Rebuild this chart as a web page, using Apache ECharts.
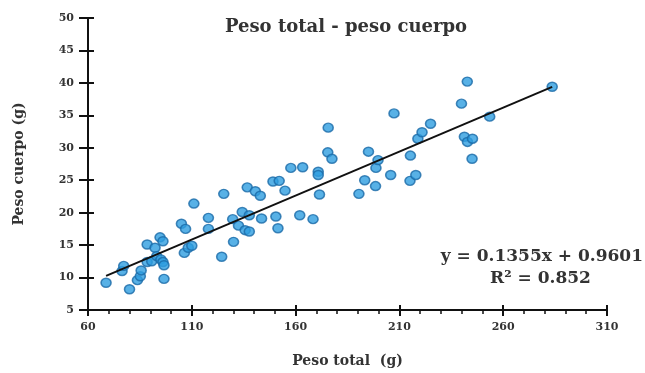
<!DOCTYPE html>
<html>
<head>
<meta charset="utf-8">
<script src="https://cdn.jsdelivr.net/npm/echarts@6/dist/echarts.min.js"></script>
<style>
  html, body { margin: 0; padding: 0; background: #fff; }
  #chart { width: 645px; height: 373px; }
</style>
</head>
<body>
<div id="chart"></div>
<script>
// datos (peso total, peso cuerpo)
var pesoTotal = [68.7, 76.4, 77.2, 80, 83.8, 85.2, 85.6, 88.5, 88.5, 90.7, 92.3, 93.1, 94.7, 95.1, 96.1, 96.1, 96.6, 96.6,
    105, 106.4, 107, 108.3, 110, 111, 118, 118, 124.4, 125.4, 129.7, 130.1, 132.5, 134.3, 135.7, 136.7, 137.7, 137.7,
    140.6, 143, 143.6, 149.1, 150.5, 152.1, 151.5, 154.9, 157.7, 162, 163.4, 168.4, 170.9, 170.9, 171.5, 175.7, 175.5,
    177.5, 190.5, 193.3, 195.1, 198.5, 198.7, 199.7, 205.8, 207.4, 215.1, 215.3, 217.9, 218.9, 220.9, 225, 239.9,
    241.3, 242.7, 242.8, 245.2, 245, 253.5, 283.6];
var pesoCuerpo = [9.2, 11.0, 11.8, 8.2, 9.6, 10.2, 11.1, 15.1, 12.4, 12.5, 14.6, 13.3, 16.2, 12.8, 15.6, 12.4, 11.9, 9.8,
    18.3, 13.8, 17.5, 14.6, 14.9, 21.4, 19.2, 17.5, 13.2, 22.9, 19.0, 15.5, 18.0, 20.1, 17.3, 23.9, 17.1, 19.6,
    23.3, 22.6, 19.1, 24.8, 19.4, 24.9, 17.6, 23.4, 26.9, 19.6, 27.0, 19.0, 26.3, 25.8, 22.8, 33.1, 29.3,
    28.3, 22.9, 25.0, 29.4, 24.1, 26.9, 28.1, 25.8, 35.3, 24.9, 28.8, 25.8, 31.4, 32.4, 33.7, 36.8,
    31.7, 40.2, 30.9, 31.4, 28.3, 34.8, 39.4];
// recta de tendencia: y = 0.1355x + 0.9601
var pendiente = 0.1355;
var intercepto = 0.9601;
var xTicks = [60, 110, 160, 210, 260, 310];
var yTicks = [5, 10, 15, 20, 25, 30, 35, 40, 45, 50];

var puntos = [];
for (var i = 0; i < pesoTotal.length; i++) {
    puntos.push([pesoTotal[i], pesoCuerpo[i]]);
}
var xMinData = Math.min.apply(null, pesoTotal);
var xMaxData = Math.max.apply(null, pesoTotal);
var tendencia = [
    [xMinData, pendiente * xMinData + intercepto],
    [xMaxData, pendiente * xMaxData + intercepto]
];

var fuente = 'DejaVu Serif';
var chart = echarts.init(document.getElementById('chart'));

var option = {
    backgroundColor: '#ffffff',
    animation: false,
    title: {
        text: 'Peso total - peso cuerpo',
        left: 341,
        textAlign: 'center',
        top: 13,
        textStyle: { fontFamily: fuente, fontSize: 18, fontWeight: 'bold', color: '#333' }
    },
    grid: { left: 88, right: 38, top: 18, bottom: 62 },
    xAxis: [{
        type: 'value',
        min: xTicks[0],
        max: xTicks[xTicks.length - 1],
        interval: 50,
        name: 'Peso total  (g)',
        nameLocation: 'middle',
        nameGap: 44,
        nameTextStyle: { fontFamily: fuente, fontSize: 14, fontWeight: 'bold', color: '#333' },
        axisLine: { lineStyle: { color: '#111', width: 2 } },
        axisTick: { show: true, length: 6, lineStyle: { color: '#111', width: 2 } },
        minorTick: { show: true, splitNumber: 5, length: 4, lineStyle: { color: '#111', width: 1.5 } },
        axisLabel: { fontFamily: fuente, fontSize: 11, fontWeight: 'bold', color: '#333', margin: 12 },
        splitLine: { show: false }
    }, {
        type: 'value',
        position: 'bottom',
        min: xTicks[0],
        max: xTicks[xTicks.length - 1],
        interval: 50,
        axisLine: { show: false },
        axisTick: { show: true, inside: true, length: 5, lineStyle: { color: '#111', width: 2 } },
        axisLabel: { show: false },
        splitLine: { show: false }
    }],
    yAxis: [{
        type: 'value',
        min: yTicks[0],
        max: yTicks[yTicks.length - 1],
        interval: 5,
        name: 'Peso cuerpo (g)',
        nameLocation: 'middle',
        nameGap: 62,
        nameTextStyle: { fontFamily: fuente, fontSize: 14, fontWeight: 'bold', color: '#333' },
        axisLine: { show: true, lineStyle: { color: '#111', width: 2 } },
        axisTick: { show: true, length: 9, lineStyle: { color: '#111', width: 2 } },
        axisLabel: { fontFamily: fuente, fontSize: 11, fontWeight: 'bold', color: '#333', margin: 14 },
        splitLine: { show: false }
    }, {
        type: 'value',
        position: 'left',
        min: yTicks[0],
        max: yTicks[yTicks.length - 1],
        interval: 5,
        axisLine: { show: false },
        axisTick: { show: true, inside: true, length: 6, lineStyle: { color: '#111', width: 2 } },
        axisLabel: { show: false },
        splitLine: { show: false }
    }],
    series: [{
        name: 'datos',
        type: 'scatter',
        data: puntos,
        symbol: 'circle',
        symbolSize: [10, 9],
        itemStyle: { color: '#2e9de0', borderColor: '#1a6aa8', borderWidth: 1.5 },
        z: 3
    }, {
        name: 'tendencia',
        type: 'line',
        data: tendencia,
        symbol: 'none',
        lineStyle: { color: '#111', width: 2 },
        z: 4
    }],
    graphic: [{
        type: 'text',
        right: 2,
        top: 248,
        style: { text: 'y = 0.1355x + 0.9601', font: 'bold 17px "DejaVu Serif"', fill: '#333' }
    }, {
        type: 'text',
        left: 490,
        top: 270,
        style: { text: 'R² = 0.852', font: 'bold 17px "DejaVu Serif"', fill: '#333' }
    }]
};
chart.setOption(option);
</script>
</body>
</html>
